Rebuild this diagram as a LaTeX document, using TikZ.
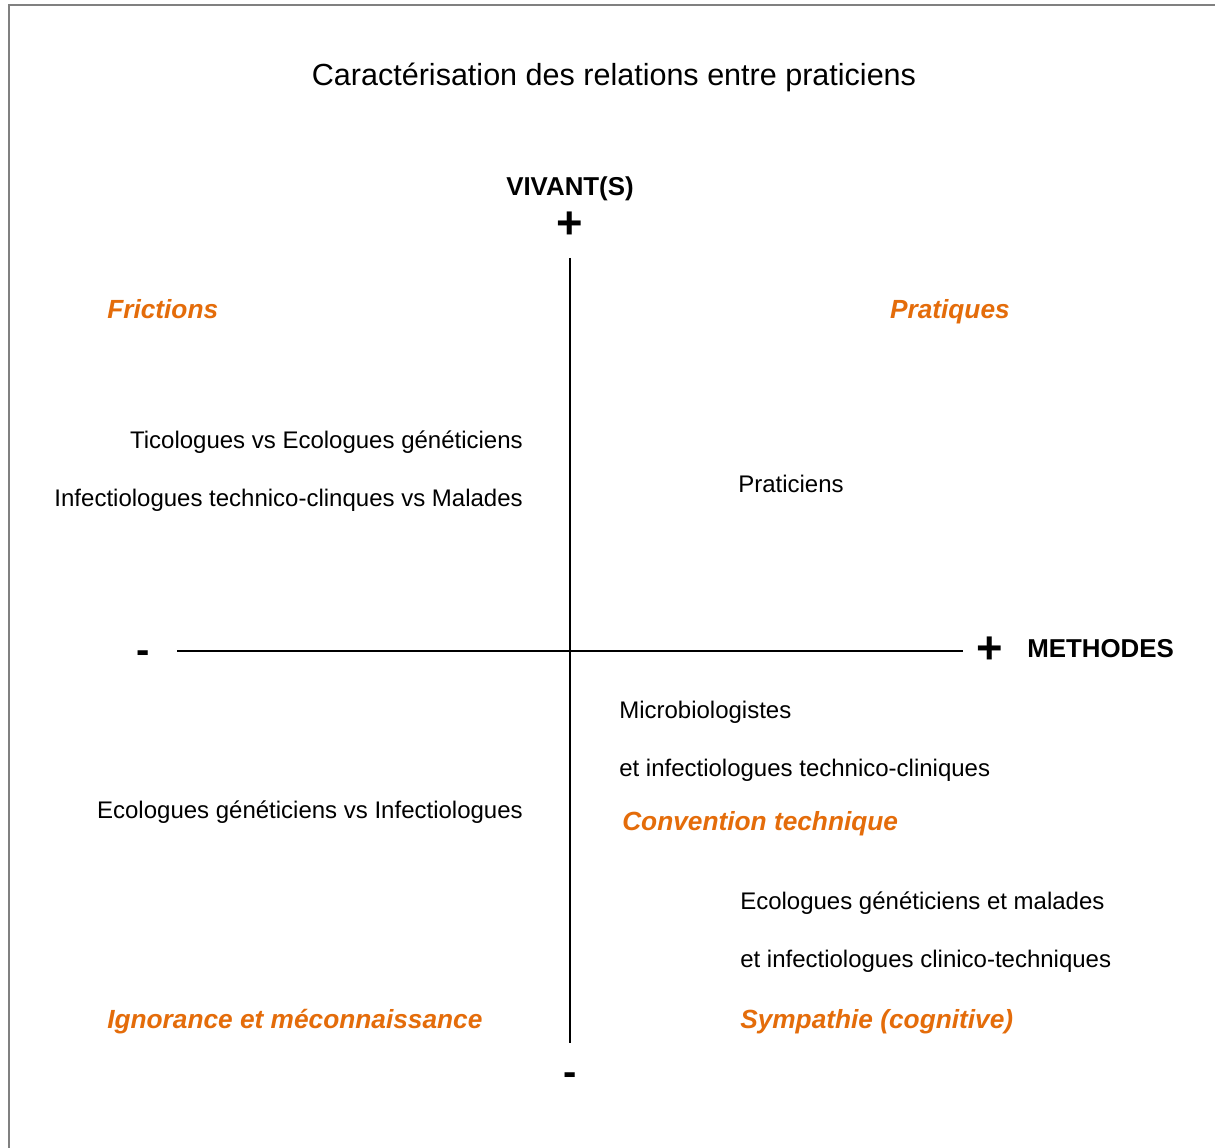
\documentclass[tikz,border=0pt]{standalone}
\usepackage{fontspec}
\setmainfont{Liberation Sans}
\definecolor{orangelab}{RGB}{228,108,10}
\definecolor{framegray}{RGB}{128,128,128}
\begin{document}
\begin{tikzpicture}[x=0.75pt,y=-0.75pt,
  body/.style={inner sep=0pt,font=\fontsize{18}{20}\selectfont},
  cat/.style={inner sep=0pt,text=orangelab,font=\fontsize{19.7}{22}\selectfont\bfseries\itshape},
  axlab/.style={inner sep=0pt,font=\fontsize{19.4}{22}\selectfont\bfseries},
  sign/.style={inner sep=0pt,font=\fontsize{34}{36}\selectfont\bfseries},
  minus/.style={inner sep=0pt,font=\fontsize{30}{32}\selectfont\bfseries},
  axis/.style={line width=1.5pt}]
\useasboundingbox (0,0) rectangle (1215,1148);
\fill[white] (0,0) rectangle (1215,1148);
\draw[framegray,line width=1.5pt] (9,1148) -- (9,5) -- (1215,5);
% title
\node[body,font=\fontsize{22.9}{26}\selectfont,anchor=base] (title) at (614,86) {Caractérisation des relations entre praticiens};
% axes
\coordinate (vtop) at (570,258);
\coordinate (vbot) at (570,1043);
\coordinate (hleft) at (177,651);
\coordinate (hright) at (963,651);
\draw[axis] (vtop) -- (vbot);
\draw[axis] (hleft) -- (hright);
\node[axlab,anchor=base] (vivant) at (570,196) {VIVANT(S)};
\node[sign] (plustop) at (570,225) {+};
\node[minus] (minusleft) at (143,657) {-};
\node[sign] (plusright) at (990,650) {+};
\node[axlab,anchor=base west] (methodes) at (1027,657) {METHODES};
\node[minus] (minusbot) at (570,1079) {-};
% categories
\node[cat,anchor=base west] (frictions) at (107,319) {Frictions};
\node[cat,anchor=base east] (pratiques) at (1010,319) {Pratiques};
\node[cat,anchor=base west] (convention) at (622,830) {Convention technique};
\node[cat,anchor=base west] (ignorance) at (107,1028) {Ignorance et méconnaissance};
\node[cat,anchor=base west] (sympathie) at (740,1028) {Sympathie (cognitive)};
% texts
\node[body,anchor=base east] (t1) at (523,449) {Ticologues vs Ecologues généticiens};
\node[body,anchor=base east] (t2) at (523,507) {Infectiologues technico-clinques vs Malades};
\node[body,anchor=base west] (t3) at (738,493) {Praticiens};
\node[body,anchor=base west] (t4) at (619,718) {Microbiologistes};
\node[body,anchor=base west] (t5) at (619,776) {et infectiologues technico-cliniques};
\node[body,anchor=base east] (t6) at (523,818) {Ecologues généticiens vs Infectiologues};
\node[body,anchor=base west] (t7) at (740,909) {Ecologues généticiens et malades};
\node[body,anchor=base west] (t8) at (740,967) {et infectiologues clinico-techniques};
\end{tikzpicture}
\end{document}
